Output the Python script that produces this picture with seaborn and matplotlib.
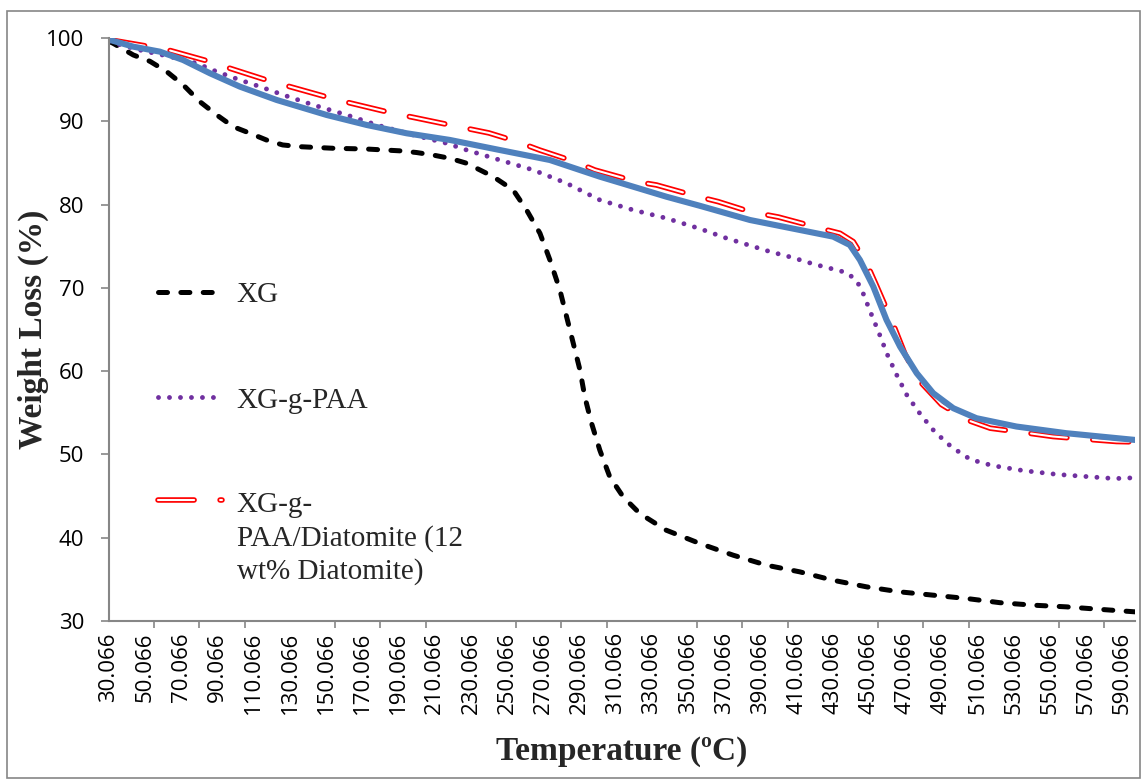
import matplotlib
matplotlib.use("Agg")
import matplotlib.pyplot as plt
import matplotlib.patheffects as pe
from matplotlib.patches import Rectangle
from matplotlib.legend_handler import HandlerLine2D
from matplotlib.transforms import Affine2D
import seaborn as sns
import numpy as np

# --- data ---
xg_temp = [30.066, 32.4, 43.5, 52.7, 62, 71.1, 80.3, 89.6, 98.7, 108, 117, 126, 135.6, 154,
           172.4, 191, 200, 209, 218.5, 227.7, 242.4, 253.4, 260.8, 268.2, 273.7, 279.2,
           282.9, 286.6, 290.3, 293, 296.7, 301.3, 306.8, 314.2, 323.4, 338, 356.6, 375,
           393.4, 411.8, 430, 448.7, 467, 485.5, 504, 522.3, 540.7, 559, 577.6, 597]
xg_wt = [99.6, 99.36, 97.96, 97.2, 95.96, 94.36, 92.35, 90.76, 89.35, 88.56, 87.76, 87.16,
         86.95, 86.76, 86.67, 86.45, 86.25, 85.95, 85.55, 84.96, 83.35, 81.75, 79.35, 76.55,
         73.35, 69.75, 66.55, 63.35, 60.14, 56.9, 53.75, 50.5, 47.3, 44.9, 42.9, 40.9, 39.3,
         37.9, 36.7, 35.9, 34.9, 34.1, 33.5, 33.1, 32.7, 32.2, 31.9, 31.7, 31.4, 31.1]

paa_temp = [30.066, 36, 47, 63.8, 78.5, 89.6, 102.4, 113.5, 126.4, 143, 161.4, 178, 198.2,
            216.6, 227.7, 246, 264.5, 282.9, 301.3, 319.7, 338, 356.6, 371.3, 383.3, 395.3,
            407.2, 419.2, 432, 437.6, 442.8, 445.9, 450.5, 455.5, 460, 465.2, 471, 478.5,
            486.4, 495.6, 506, 518.2, 535.2, 554, 573, 585.5, 597]
paa_wt = [99.6, 99.2, 98.56, 97.76, 96.96, 95.96, 94.96, 94.16, 93.16, 91.96, 90.76, 89.56,
          88.36, 87.36, 86.55, 85.35, 84.15, 82.56, 80.55, 79.35, 78.36, 77.1, 75.96, 75.15,
          74.35, 73.67, 72.87, 72.15, 71.83, 70.95, 69.83, 67.26, 64.6, 62.06, 59.6, 57.1,
          54.8, 52.7, 50.9, 49.4, 48.66, 48.06, 47.6, 47.3, 47.1, 47.2]

dia_temp = [30.066, 52.7, 62.8, 85.9, 96.9, 119.9, 130, 153, 164, 187, 198, 218.4, 240, 255,
            268, 287.5, 298.5, 321.6, 332.6, 355.6, 366.7, 384.2, 400, 423, 434, 441.3,
            448.7, 453.6, 462.8, 470, 478, 490, 504, 517, 540, 551.7, 562.8, 586.8, 597]
dia_wt = [99.8, 98.96, 98.56, 97.16, 96.36, 94.76, 94.16, 92.76, 92.16, 90.96, 90.48, 89.56,
          88.6, 87.6, 86.55, 85.15, 84.15, 82.75, 82.35, 80.95, 80.35, 79.15, 78.5, 77.16,
          76.55, 75.55, 72.95, 70.55, 65.95, 62.0, 58.8, 56.0, 54.15, 53.15, 52.5, 52.15,
          51.95, 51.55, 51.5]

blue_temp = [30.066, 43.5, 58.2, 71, 85.9, 102.4, 122.7, 150.3, 172.4, 194.5, 218.4, 246,
             273.7, 301.3, 319.7, 338, 356.6, 384.2, 411.8, 430.2, 439.4, 445, 452.4, 459.7,
             467.2, 476.4, 485.5, 496.6, 509.4, 531.5, 559, 597]
blue_wt = [99.8, 98.96, 98.36, 97.36, 95.76, 94.16, 92.56, 90.76, 89.56, 88.56, 87.76, 86.55,
           85.35, 83.35, 82.15, 80.95, 79.85, 78.15, 76.95, 76.15, 75.15, 73.35, 70.15, 66.15,
           62.94, 59.75, 57.35, 55.55, 54.35, 53.35, 52.55, 51.74]

tick_labels = ["%.3f" % (30.066 + 20 * i) for i in range(29)]
label_pos = [30.066 + 20 * i for i in range(29)]
mark_pos = [30.066 + 25 * i for i in range(23)]
y_ticks = [30, 40, 50, 60, 70, 80, 90, 100]

legend_names = ["XG", "XG-g-PAA", "XG-g-\nPAA/Diatomite (12\nwt% Diatomite)"]

# --- style ---
sns.set_theme(style="white")
plt.rcParams["font.family"] = ["Open Sans", "DejaVu Sans"]
plt.rcParams["lines.scale_dashes"] = False
grey = "#868686"

fig = plt.figure(figsize=(11.46, 7.84), dpi=100)
ax = fig.add_axes([109 / 1146, 1 - 621 / 784, (1135 - 109) / 1146, (621 - 38) / 784])

sns.lineplot(x=xg_temp, y=xg_wt, ax=ax, color="black", lw=3.6, label=legend_names[0])
l_xg = ax.lines[-1]
l_xg.set_dashes((6.5, 9.6))
l_xg.set_dash_capstyle("round")

sns.lineplot(x=paa_temp, y=paa_wt, ax=ax, color="#7030A0", lw=3.5, label=legend_names[1])
l_paa = ax.lines[-1]
l_paa.set_dashes((0.01, 7.9))
l_paa.set_dash_capstyle("round")

sns.lineplot(x=dia_temp, y=dia_wt, ax=ax, color="white", lw=1.5, label=legend_names[2],
             path_effects=[pe.Stroke(linewidth=4.0, foreground="#FF0000"), pe.Normal()])
l_dia = ax.lines[-1]
l_dia.set_dashes((26, 18.7))
l_dia.set_dash_capstyle("round")

sns.lineplot(x=blue_temp, y=blue_wt, ax=ax, color="#4F81BD", lw=4.4, label="_nolegend_")
ax.lines[-1].set_solid_capstyle("round")

# --- axes ---
ax.set_xlim(30.066, 597)
ax.set_ylim(30, 100)
ax.set_yticks(y_ticks)
ax.set_xticks(label_pos)
ax.set_xticklabels(tick_labels, rotation=90, fontsize=16)
ax.set_xticks(mark_pos, minor=True)
ax.tick_params(axis="x", which="major", length=0, pad=8, labelcolor="black")
ax.tick_params(axis="x", which="minor", length=5, width=1.2, color=grey, direction="out")
ax.tick_params(axis="y", length=6, width=1.2, color=grey, direction="out", pad=12,
               labelsize=16, labelcolor="black")
ax.tick_params(bottom=True, left=True, which="both")
for s in ["top", "right"]:
    ax.spines[s].set_visible(False)
for s in ["left", "bottom"]:
    ax.spines[s].set_color(grey)
    ax.spines[s].set_linewidth(1.5)
ax.grid(False)

ax.set_xlabel("Temperature (\u00baC)", fontsize=24, fontweight="bold", family="Liberation Serif")
ax.set_ylabel("Weight Loss (%)", fontsize=24, fontweight="bold", family="Liberation Serif")
ax.xaxis.set_label_coords(0.5, -0.197)
ax.yaxis.set_label_coords(-0.058, 0.5)


class RaisedLine(HandlerLine2D):
    def __init__(self, lift, **kw):
        super().__init__(**kw)
        self.lift = lift

    def create_artists(self, legend, orig_handle, xdescent, ydescent, width, height,
                       fontsize, trans):
        arts = super().create_artists(legend, orig_handle, xdescent, ydescent, width,
                                      height, fontsize, trans)
        for a in arts:
            a.set_transform(Affine2D().translate(0, self.lift) + trans)
        return arts


leg = ax.legend(handles=[l_xg, l_paa, l_dia], labels=legend_names, loc="upper left",
                bbox_to_anchor=(158 / 1146, 1 - 282 / 784), bbox_transform=fig.transFigure,
                frameon=False, prop={"family": "Liberation Serif", "size": 21},
                handlelength=2.2, handletextpad=0.5, labelspacing=2.7,
                borderpad=0, borderaxespad=0,
                handler_map={l_dia: RaisedLine(lift=28)})
for t in leg.get_texts():
    t.set_linespacing(1.32)

# outer chart border
fig.patches.append(Rectangle((7 / 1146, 6 / 784), 1133 / 1146, 767 / 784,
                             transform=fig.transFigure, fill=False, edgecolor=grey, lw=1.2))

fig.savefig("out.png", dpi=100)
